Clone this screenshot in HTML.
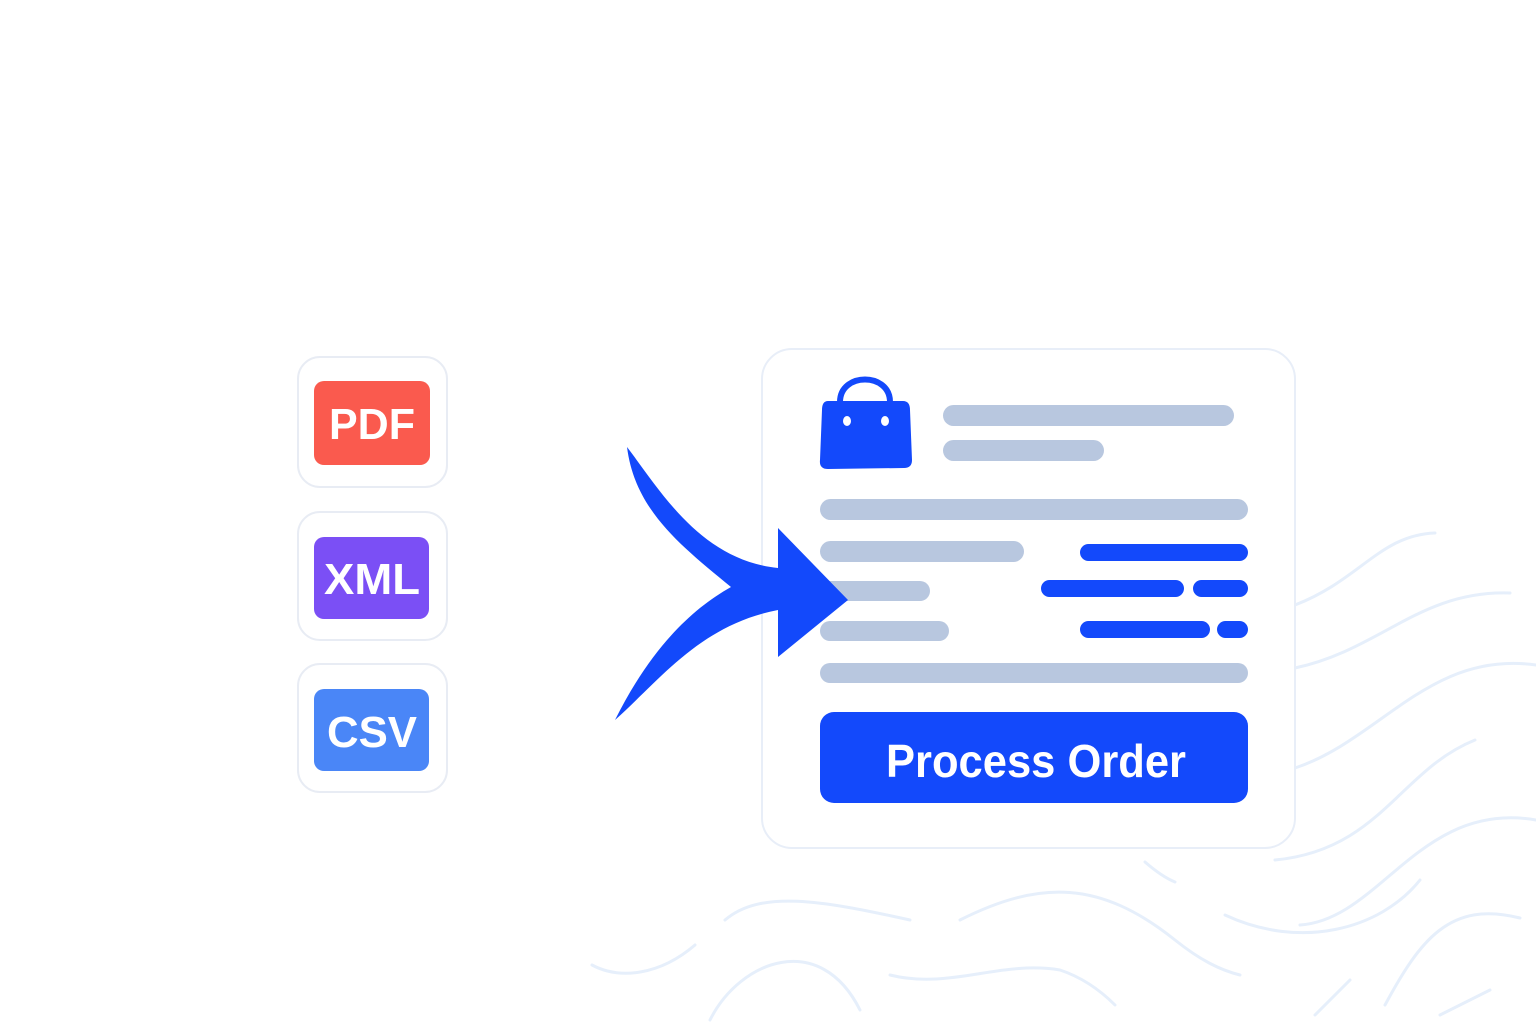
<!DOCTYPE html>
<html><head><meta charset="utf-8"><style>
body{margin:0;background:#fff;}
svg{display:block}
</style></head><body>
<svg width="1536" height="1024" viewBox="0 0 1536 1024" xmlns="http://www.w3.org/2000/svg">
<g fill="none" stroke="#e6effb" stroke-width="3" stroke-linecap="round">
<path d="M1295,605 C1360,580 1380,535 1435,533"/>
<path d="M1295,668 C1380,650 1420,590 1510,593"/>
<path d="M1295,768 C1380,740 1430,650 1536,665"/>
<path d="M1275,860 C1380,850 1400,770 1475,740"/>
<path d="M1300,925 C1380,920 1420,800 1536,820"/>
<path d="M1225,915 C1300,950 1380,930 1420,880"/>
<path d="M1145,862 C1160,875 1170,880 1175,882"/>
<path d="M725,920 C760,890 820,900 910,920"/>
<path d="M960,920 C1040,880 1100,880 1175,940 C1200,960 1220,970 1240,975"/>
<path d="M592,965 C620,980 660,975 695,945"/>
<path d="M710,1020 C740,960 820,930 860,1010"/>
<path d="M890,975 C950,990 1000,960 1060,970 C1090,980 1110,1000 1115,1005"/>
<path d="M1385,1005 C1420,940 1450,900 1520,918"/>
<path d="M1315,1015 C1330,1000 1340,990 1350,980"/>
<path d="M1440,1015 C1460,1005 1480,995 1490,990"/>
</g>
<rect x="762" y="349" width="533" height="499" rx="30" fill="#fff" stroke="#e8eef8" stroke-width="2"/>
<!-- bag -->
<path d="M840,402 C840,372 890,372 890,402" fill="none" stroke="#1349fb" stroke-width="6"/>
<path d="M828,401 L903,401 Q910,401 910,410 L912,460 Q912,468 904,468 L828,469 Q819,469 820,460 L822,410 Q822,401 828,401 Z" fill="#1349fb"/>
<ellipse cx="847" cy="421" rx="4" ry="5" fill="#fff"/>
<ellipse cx="885" cy="421" rx="4" ry="5" fill="#fff"/>
<g fill="#b8c7df">
<rect x="943" y="405" width="291" height="21" rx="10.5"/>
<rect x="943" y="440" width="161" height="21" rx="10.5"/>
<rect x="820" y="499" width="428" height="21" rx="10.5"/>
<rect x="820" y="541" width="204" height="21" rx="10.5"/>
<rect x="820" y="581" width="110" height="20" rx="10"/>
<rect x="820" y="621" width="129" height="20" rx="10"/>
<rect x="820" y="663" width="428" height="20" rx="10"/>
</g>
<g fill="#1349fb">
<rect x="1080" y="544" width="168" height="17" rx="8.5"/>
<rect x="1041" y="580" width="143" height="17" rx="8.5"/>
<rect x="1193" y="580" width="55" height="17" rx="8.5"/>
<rect x="1080" y="621" width="130" height="17" rx="8.5"/>
<rect x="1217" y="621" width="31" height="17" rx="8.5"/>
<rect x="820" y="712" width="428" height="91" rx="14"/>
</g>
<text x="1036" y="777" text-anchor="middle" font-family="Liberation Sans, sans-serif" font-weight="bold" font-size="46" fill="#fff" textLength="300" lengthAdjust="spacingAndGlyphs">Process Order</text>
<!-- arrow -->
<path d="M627,447 C660,490 700,560 778,568 L778,528 L848,600 L778,657 L778,610 C700,625 660,680 615,720 C650,650 690,610 731,587 C680,545 635,510 627,447 Z" fill="#1349fb"/>
<!-- file icons -->
<g fill="#fff" stroke="#e8ecf4" stroke-width="2">
<rect x="298" y="357" width="149" height="130" rx="22"/>
<rect x="298" y="512" width="149" height="128" rx="22"/>
<rect x="298" y="664" width="149" height="128" rx="22"/>
</g>
<rect x="314" y="381" width="116" height="84" rx="10" fill="#fa5a4e"/>
<rect x="314" y="537" width="115" height="82" rx="10" fill="#7b4ff5"/>
<rect x="314" y="689" width="115" height="82" rx="10" fill="#4a86f7"/>
<g font-family="Liberation Sans, sans-serif" font-weight="bold" font-size="44" fill="#fff" text-anchor="middle">
<text x="372" y="439" textLength="86" lengthAdjust="spacingAndGlyphs">PDF</text>
<text x="372" y="594" textLength="96" lengthAdjust="spacingAndGlyphs">XML</text>
<text x="372" y="747" textLength="90" lengthAdjust="spacingAndGlyphs">CSV</text>
</g>
</svg>
</body></html>
